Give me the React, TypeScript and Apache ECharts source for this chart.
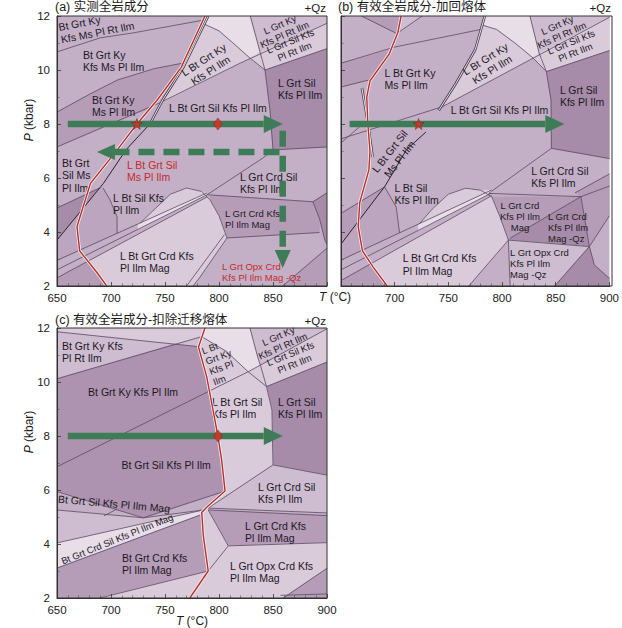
import React, { useEffect, useRef } from 'react';
import * as echarts from 'echarts';

type Pt = [number, number];
type Field = [string, Pt[]];
type Label = [string, number, number, number, string, string];
type Arrow = [number, number, number, number, number];

const FONT = '"Liberation Sans", Arial, "Noto Sans CJK SC", sans-serif';
const SHADE: Record<string, string> = {
  L0: '#e8dee8', L1: '#dacbdb', L2: '#cebdd0', M: '#c4b0c6', DM: '#bca5be', D1: '#b59db8', D2: '#a68ca9', DK: '#ad93b0',
};
const GREEN = '#3e7c57';
const RED = '#b52f2b';
const LINE = '#5b4a5f';

// ---------------- Panel (a) ----------------
const A_RED: Pt[] = [[787, 12], [765, 10.1], [743, 8.9], [724, 8], [706, 7.05], [681, 5.8], [668.5, 4.2], [671, 3.3], [687, 2.5], [696, 2]];
const A_BLACK: Pt[] = [[790, 12], [767, 10.1], [748, 8.9], [736, 8], [714, 7.05], [693, 5.8], [650, 3.7]];
const A_LINES: Pt[][] = [
  [[650, 10.67], [690, 11.19], [720, 11.37], [786, 11.85]],
  [[650, 8.44], [680, 9.1], [706, 9.63], [740, 10.05], [766, 10.25]],
  [[650, 7.15], [745, 8.78], [819.4, 10.25], [900, 11.73]],
  [[786.4, 11.7], [800, 11.45], [813, 11.0], [828.7, 10.44], [842.6, 10.0]],
  [[829, 12], [838, 10.67], [842.6, 10.0]],
  [[842.6, 10.0], [900, 10.79]],
  [[842.6, 10.0], [847.2, 8.52], [850, 7.04]],
  [[850, 7.04], [900, 7.15]],
  [[789, 5.38], [840.7, 6.74], [850, 7.04]],
  [[789, 5.38], [887, 5.12], [900, 5.45]],
  [[887, 5.12], [893, 4.5], [898, 3.7], [900, 3.55]],
  [[807.4, 3.78], [893, 3.98]],
  [[727, 4.33], [742.6, 4.93], [755, 5.4], [770, 5.63], [784, 5.5], [791.7, 5.19], [800, 4.6], [807.4, 3.78]],
  [[807.4, 3.78], [782.4, 2.33], [776, 2.0]],
  [[805, 3.9], [770, 2.0]],
  [[650, 2.95], [789, 5.45]],
  [[650, 2.6], [789, 5.38]],
  [[650, 2.3], [789, 5.3]],
  [[650, 4.89], [689.5, 5.63]],
  [[692.6, 5.63], [699, 5.2], [705.6, 4.56], [705.6, 3.95]],
  [[859, 2.0], [900, 3.4]],
];
const A_FIELDS: Field[] = [
  ['D1', [[650, 8.44], [680, 9.1], [706, 9.63], [740, 10.05], [766, 10.25], [765, 10.1], [743, 8.9], [736.5, 8.59], [700, 8.0], [650, 7.15]]],
  ['L0', [[790, 12], [829, 12], [838, 10.67], [828.7, 10.44], [813, 11.0], [800, 11.45], [786.4, 11.7]]],
  ['L1', [[746, 8.78], [767, 10.1], [786.4, 11.7], [800, 11.45], [813, 11.0], [828.7, 10.44], [819.4, 10.25]]],
  ['L2', [[829, 12], [900, 12], [900, 11.73], [838, 10.67]]],
  ['L1', [[828.7, 10.44], [838, 10.67], [900, 11.73], [900, 10.79], [842.6, 10.0]]],
  ['D2', [[842.6, 10.0], [900, 10.79], [900, 7.15], [850, 7.04], [847.2, 8.52]]],
  ['D1', [[791.7, 5.37], [887, 5.12], [893, 4.5], [893, 3.98], [807.4, 3.78], [800, 4.6], [791.7, 5.19]]],
  ['D2', [[887, 5.12], [900, 5.45], [900, 3.55], [898, 3.7], [893, 4.5]]],
  ['D1', [[859, 2], [900, 2], [900, 3.4]]],
  ['L1', [[727, 4.33], [742.6, 4.93], [755, 5.4], [770, 5.63], [784, 5.5], [789, 5.45]]],
  ['L1', [[696, 2], [687, 2.5], [678, 2.9], [789, 5.3], [791.7, 5.19], [800, 4.6], [807.4, 3.78], [782.4, 2.33], [776, 2]]],
  ['L0', [[725, 4.3], [789, 5.45], [789, 5.38], [725, 4.1]]],
  ['D1', [[650, 2], [696, 2], [687, 2.5], [678, 2.9], [650, 2.3]]],
  ['D2', [[650, 4.89], [689.5, 5.63], [650, 3.7]]],
  ['DM', [[689.5, 5.63], [692.6, 5.63], [699, 5.2], [705.6, 4.56], [705.6, 3.95], [650, 2.95], [650, 3.7]]],
];
const A_LABELS: Label[] = [
  ['Bt Grt Ky\nKfs Ms Pl Rt Ilm', 652.5, 11.36, 11, 'l', 'n'],
  ['Bt Grt Ky\nKfs Ms Pl Ilm', 674, 10.33, 0, 'l', 'n'],
  ['Bt Grt Ky\nMs Pl Ilm', 682.4, 8.67, 0, 'l', 'n'],
  ['L Bt Grt Ky\nKfs Pl Ilm', 788.9, 10.19, 33, 'c', 'n'],
  ['L Grt Ky\nKfs Pl Rt Ilm', 858.5, 11.5, 24, 'c', 's'],
  ['L Grt Sil Kfs\nPl Rt Ilm', 868, 10.88, 22, 'c', 's'],
  ['L Grt Sil\nKfs Pl Ilm', 854.6, 9.3, 0, 'l', 'n'],
  ['L Bt Grt Sil Kfs Pl Ilm', 799, 8.59, 0, 'c', 'n'],
  ['L Bt Grt Sil\nMs Pl Ilm', 714.8, 6.26, 0, 'l', 'r'],
  ['Bt Grt\nSil Ms\nPl Ilm', 654.6, 6.11, 0, 'l', 'n'],
  ['L Bt Sil Kfs\nPl Ilm', 701.9, 5.04, 0, 'l', 'n'],
  ['L Grt Crd Sil\nKfs Pl Ilm', 819.4, 5.81, 0, 'l', 'n'],
  ['L Grt Crd Kfs\nPl Ilm Mag', 805.6, 4.48, 0, 'l', 's'],
  ['L Bt Grt Crd Kfs\nPl Ilm Mag', 708.3, 2.89, 0, 'l', 'n'],
  ['L Grt Opx Crd\nKfs Pl Ilm Mag -Qz', 802.8, 2.52, 0, 'l', 'rs'],
];
const A_ARROWS: Arrow[] = [[660, 8, 859, 8, 0], [856, 6.96, 687, 6.96, 1], [859, 7.75, 859, 2.67, 1]];
const A_STARS: Pt[] = [[724, 8]];
const A_DIAMONDS: Pt[] = [[799, 8]];

// ---------------- Panel (b) ----------------
const B_RED: Pt[] = [[706, 12], [703, 11.4], [695, 10.6], [677, 9.6], [674, 9.0], [675, 8.0], [677, 7.0], [676, 6.3], [667.5, 5.1], [666, 4.2], [670, 3.3], [680, 2.7], [693, 2]];
const B_BLACK: Pt[] = [[784, 12], [775, 10.75], [757, 9.5], [741, 8.5], [729, 7.7], [711, 7.05], [691, 5.7], [650, 3.55]];
const B_DOUBLE: Pt[][] = [[[669.5, 9.33], [674, 8.3], [679.5, 6.78]]];
const B_LINES: Pt[][] = [
  [[669, 12], [702, 11.35]],
  [[702, 11.35], [725.6, 12]],
  [[650, 10.25], [700, 10.85], [780, 11.5]],
  [[650, 9.37], [676, 9.63]],
  [[650, 7.45], [744.4, 8.64], [900, 11.95]],
  [[781, 11.67], [795, 11.5], [812, 11.0], [829, 10.44], [841.3, 9.94]],
  [[826, 12], [834.5, 10.63], [841.3, 9.94]],
  [[841.3, 9.94], [900, 10.72]],
  [[841.3, 9.94], [845.6, 8.89], [846, 7.1]],
  [[846, 7.1], [900, 6.72]],
  [[787.5, 5.43], [846, 7.1]],
  [[787.5, 5.43], [873.5, 5.31], [900, 5.7]],
  [[868, 5.45], [900, 6.15]],
  [[722.9, 4.3], [735, 4.85], [750, 5.4], [766, 5.62], [780, 5.55], [790.5, 5.3], [798, 4.57], [805.9, 3.7]],
  [[805.9, 3.7], [769, 2.0]],
  [[805.9, 3.7], [807.5, 2.0]],
  [[805.9, 3.7], [881.3, 3.46]],
  [[807.5, 3.77], [873.5, 5.31]],
  [[873.5, 5.31], [881.3, 3.46]],
  [[881.3, 3.46], [900, 4.6]],
  [[881.3, 3.46], [886, 2.78], [898, 2.35], [900, 2.3]],
  [[849, 2.0], [881.3, 3.46]],
  [[650, 2.96], [790.5, 5.56]],
  [[650, 2.6], [790.5, 5.45]],
  [[650, 2.2], [790.5, 5.35]],
  [[650, 4.69], [690.6, 5.67]],
  [[690.6, 5.67], [701.4, 4.93], [704.5, 3.97]],
  [[650, 7.3], [676, 8.2]],
];
const B_FIELDS: Field[] = [
  ['D1', [[669, 12], [706, 12], [703, 11.4], [702, 11.35]]],
  ['L2', [[706, 12], [725.6, 12], [702, 11.35], [703, 11.4]]],
  ['D1', [[650, 10.25], [694, 10.72], [686, 10.1], [677, 9.6], [676, 9.63], [650, 9.37]]],
  ['L0', [[784, 12], [826, 12], [834.5, 10.63], [829, 10.44], [812, 11.0], [795, 11.5], [781, 11.67]]],
  ['L1', [[742.5, 8.6], [757, 9.5], [775, 10.75], [781, 11.67], [795, 11.5], [812, 11.0], [829, 10.44]]],
  ['L2', [[826, 12], [900, 12], [900, 11.95], [834.5, 10.63]]],
  ['L1', [[829, 10.44], [834.5, 10.63], [900, 11.95], [900, 10.72], [841.3, 9.94]]],
  ['D2', [[841.3, 9.94], [900, 10.72], [900, 6.72], [846, 7.1], [845.6, 8.89]]],
  ['D1', [[873.5, 5.31], [900, 5.7], [900, 6.15], [868, 5.45]]],
  ['D1', [[790.5, 5.3], [873.5, 5.31], [807.5, 3.77], [805.9, 3.7], [798, 4.57]]],
  ['D2', [[807.5, 3.77], [873.5, 5.31], [881.3, 3.46], [805.9, 3.7]]],
  ['D1', [[873.5, 5.31], [900, 5.7], [900, 4.6], [881.3, 3.46]]],
  ['L2', [[805.9, 3.7], [881.3, 3.46], [849, 2], [807.5, 2]]],
  ['D2', [[849, 2], [881.3, 3.46], [886, 2.78], [898, 2.35], [900, 2.3], [900, 2]]],
  ['L1', [[722.9, 4.3], [735, 4.85], [750, 5.4], [766, 5.62], [780, 5.55], [790.5, 5.56]]],
  ['L1', [[693, 2], [680, 2.7], [678, 2.83], [790.5, 5.35], [790.5, 5.3], [798, 4.57], [805.9, 3.7], [769, 2]]],
  ['L0', [[722, 4.29], [790.5, 5.56], [790.5, 5.45], [722, 4.06]]],
  ['D1', [[650, 2], [693, 2], [680, 2.7], [678, 2.83], [650, 2.2]]],
  ['D1', [[650, 4.69], [690.6, 5.67], [650, 3.55]]],
  ['DM', [[690.6, 5.67], [701.4, 4.93], [704.5, 3.97], [650, 2.96], [650, 3.55]]],
];
const B_LABELS: Label[] = [
  ['L Bt Grt Ky\nMs Pl Ilm', 690.6, 9.67, 0, 'l', 'n'],
  ['L Bt Grt Ky\nKfs Pl Ilm', 787.5, 10.22, 32, 'c', 'n'],
  ['L Grt Ky\nKfs Pl Rt Ilm', 853.5, 11.48, 24, 'c', 's'],
  ['L Grt Sil Kfs\nPl Rt Ilm', 866.3, 10.85, 22, 'c', 's'],
  ['L Grt Sil\nKfs Pl Ilm', 853.9, 9.04, 0, 'l', 'n'],
  ['L Bt Grt Sil Kfs Pl Ilm', 797.6, 8.52, 0, 'c', 'n'],
  ['L Bt Grt Sil\nMs Pl Ilm', 699.8, 6.85, 52, 'c', 'n'],
  ['L Bt Sil\nKfs Pl Ilm', 699.8, 5.41, 0, 'l', 'n'],
  ['L Grt Crd Sil\nKfs Pl Ilm', 827.1, 6.04, 0, 'l', 'n'],
  ['L Grt Crd\nKfs Pl Ilm\nMag', 816.7, 4.57, 0, 'c', 's'],
  ['L Grt Crd\nKfs Pl Ilm\nMag -Qz', 842.8, 4.16, 0, 'l', 's'],
  ['L Grt Opx Crd\nKfs Pl Ilm\nMag -Qz', 807.5, 2.84, 0, 'l', 's'],
  ['L Bt Grt Crd Kfs\nPl Ilm Mag', 707.5, 2.8, 0, 'l', 'n'],
];
const B_ARROWS: Arrow[] = [[658, 8, 858, 8, 0]];
const B_STARS: Pt[] = [[722.3, 8]];

// ---------------- Panel (c) ----------------
const C_RED: Pt[] = [[787, 12], [781, 11.3], [788.6, 10.2], [794.5, 8.96], [799, 8], [802.5, 7.1], [805.6, 5.96], [788.6, 5.36], [784, 5.17], [785.5, 4.3], [790, 3.0], [773, 2]];
const C_LINES: Pt[][] = [
  [[650, 11.86], [780.8, 11.31]],
  [[650, 10.12], [784, 11.68]],
  [[650, 6.86], [827, 10.38], [900, 11.97]],
  [[784, 11.68], [807, 11.13], [827, 10.38], [844, 9.83]],
  [[828.7, 12], [836, 10.9], [838.5, 10.6], [844, 9.83]],
  [[844, 9.83], [900, 10.74]],
  [[844, 9.83], [849, 8.96], [850, 6.93]],
  [[850, 6.93], [900, 6.55]],
  [[850, 6.93], [790, 5.33]],
  [[790, 5.33], [900, 5.15]],
  [[790, 5.26], [900, 5.05]],
  [[790, 5.26], [808.6, 3.93], [790, 3.0]],
  [[808.6, 3.93], [900, 4.05]],
  [[859.5, 2], [900, 3.1]],
  [[857, 2.1], [900, 2.15]],
  [[650, 5.94], [730, 4.97], [805.6, 5.96]],
  [[650, 5.26], [730, 4.97]],
  [[730, 4.97], [785.5, 5.26]],
  [[650, 4.04], [785.5, 5.26]],
  [[650, 3.11], [782.4, 5.07]],
  [[689.8, 2], [790, 3.0]],
  [[693.5, 5.04], [705.6, 5.3]],
];
const C_FIELDS: Field[] = [
  ['L1', [[650, 12], [787, 12], [781, 11.3], [650, 11.86]]],
  ['L2', [[650, 11.86], [758.4, 11.4], [650, 10.12]]],
  ['L2', [[758.4, 11.4], [784, 11.68], [781, 11.3]]],
  ['DK', [[650, 10.12], [758.4, 11.4], [780.8, 11.31], [788.6, 10.2], [791, 9.66], [650, 6.86]]],
  ['L0', [[787, 12], [828.7, 12], [836, 10.9], [838.5, 10.6], [827, 10.38], [807, 11.13], [784, 11.68]]],
  ['L1', [[784, 11.68], [807, 11.13], [827, 10.38], [791, 9.66], [788.6, 10.2], [781, 11.3]]],
  ['L2', [[828.7, 12], [900, 12], [900, 11.97], [838.5, 10.6], [836, 10.9]]],
  ['L1', [[827, 10.38], [838.5, 10.6], [900, 11.97], [900, 10.74], [844, 9.83]]],
  ['D2', [[844, 9.83], [900, 10.74], [900, 6.55], [850, 6.93], [849, 8.96]]],
  ['L1', [[791, 9.66], [827, 10.38], [844, 9.83], [849, 8.96], [850, 6.93], [806, 5.75], [805.6, 5.96], [802.5, 7.1], [799, 8], [794.5, 8.96]]],
  ['L2', [[790, 5.33], [850, 6.93], [900, 6.55], [900, 5.15]]],
  ['D1', [[790, 5.26], [900, 5.05], [900, 4.05], [808.6, 3.93]]],
  ['L1', [[808.6, 3.93], [900, 4.05], [900, 3.1], [859.5, 2], [773, 2], [790, 3.0]]],
  ['D1', [[859.5, 2], [900, 2], [900, 3.1]]],
  ['L1', [[805.6, 5.96], [806, 5.75], [790, 5.33], [790, 5.26], [808.6, 3.93], [790, 3.0], [785.5, 4.3], [784, 5.17], [788.6, 5.36]]],
  ['DK', [[650, 6.86], [791, 9.66], [794.5, 8.96], [799, 8], [802.5, 7.1], [805.6, 5.96], [730, 4.97], [650, 5.94]]],
  ['M', [[650, 5.94], [730, 4.97], [650, 5.26]]],
  ['L2', [[650, 5.26], [730, 4.97], [785.5, 5.26], [650, 4.04]]],
  ['L0', [[650, 4.04], [785.5, 5.26], [784, 5.17], [782.4, 5.07], [650, 3.11]]],
  ['D1', [[650, 3.11], [782.4, 5.07], [784, 5.17], [785.5, 4.3], [790, 3.0], [689.8, 2], [650, 2]]],
  ['L1', [[689.8, 2], [790, 3.0], [773, 2]]],
];
const C_LABELS: Label[] = [
  ['Bt Grt Ky Kfs\nPl Rt Ilm', 654.6, 11.11, 0, 'l', 'n'],
  ['Bt Grt Ky Kfs Pl Ilm', 720.4, 9.63, 0, 'c', 'n'],
  ['L Bt\nGrt Ky\nKfs Pl\nIlm', 789.5, 10.57, 20, 'l', 's'],
  ['L Grt Ky\nKfs Pl Rt Ilm', 857, 11.52, 24, 'c', 's'],
  ['L Grt Sil Kfs\nPl Rt Ilm', 868, 10.86, 22, 'c', 's'],
  ['L Bt Grt Sil\nKfs Pl Ilm', 793.5, 9.04, 0, 'l', 'n'],
  ['L Grt Sil\nKfs Pl Ilm', 854.6, 9.04, 0, 'l', 'n'],
  ['Bt Grt Sil Kfs Pl Ilm', 751, 6.93, 0, 'c', 'n'],
  ['L Grt Crd Sil\nKfs Pl Ilm', 836.1, 5.89, 0, 'l', 'n'],
  ['Bt Grt Sil Kfs Pl Ilm Mag', 702.8, 5.48, -5, 'c', 'n'],
  ['L Grt Crd Kfs\nPl Ilm Mag', 824.1, 4.44, 0, 'l', 'n'],
  ['Bt Grt Crd Sil Kfs Pl Ilm Mag', 705.6, 4.19, 22, 'c', 's'],
  ['Bt Grt Crd Kfs\nPl Ilm Mag', 710.2, 3.26, 0, 'l', 'n'],
  ['L Grt Opx Crd Kfs\nPl Ilm Mag', 810.2, 2.96, 0, 'l', 'n'],
];
const C_ARROWS: Arrow[] = [[660, 8, 859, 8, 0]];
const C_DIAMONDS: Pt[] = [[799, 8]];

const T_MIN = 650, T_MAX = 900, T_STEP = 50;
const P_MIN = 2, P_MAX = 12, P_STEP = 2;
const TITLES = ['(a) 实测全岩成分', '(b) 有效全岩成分-加回熔体', '(c) 有效全岩成分-扣除迁移熔体'];

const GRIDS = [
  { left: 57, top: 16, width: 270, height: 270 },
  { left: 341, top: 16, width: 271, height: 270 },
  { left: 57, top: 328, width: 270, height: 270 },
];

const STAR = 'path://M0,-10L2.35,-3.24L9.51,-3.09L3.8,1.24L5.88,8.09L0,4L-5.88,8.09L-3.8,1.24L-9.51,-3.09L-2.35,-3.24Z';

function panel(g: number, fields: Field[], lines: Pt[][], red: Pt[], black: Pt[] | null, doubles: Pt[][], labels: Label[], arrows: Arrow[], stars: Pt[], diamonds: Pt[]) {
  const base = { xAxisIndex: g, yAxisIndex: g, silent: true };
  const out: any[] = [];
  out.push({
    ...base, type: 'custom', clip: true, z: 1,
    data: fields.map((f) => f[1][0]),
    renderItem: (params: any, api: any) => {
      const f = fields[params.dataIndex];
      const c = SHADE[f[0]];
      return { type: 'polygon', shape: { points: f[1].map((p) => api.coord(p)) }, style: { fill: c, stroke: c, lineWidth: 0.4 } };
    },
  });
  out.push({
    ...base, type: 'custom', clip: true, z: 2,
    data: lines.map((l) => l[0]),
    renderItem: (params: any, api: any) => ({
      type: 'polyline', shape: { points: lines[params.dataIndex].map((p) => api.coord(p)) },
      style: { stroke: LINE, lineWidth: 0.8, fill: null },
    }),
  });
  const dbl = doubles.slice();
  if (black) dbl.push(black.filter((p) => p[1] >= 7.9));
  out.push({
    ...base, type: 'custom', clip: true, z: 3,
    data: dbl.map((l) => l[0]),
    renderItem: (params: any, api: any) => {
      const pts = dbl[params.dataIndex].map((p) => api.coord(p));
      return { type: 'group', children: [
        { type: 'polyline', shape: { points: pts }, style: { stroke: '#4e4252', lineWidth: 2.6, fill: null } },
        { type: 'polyline', shape: { points: pts }, style: { stroke: '#f2eef2', lineWidth: 0.9, fill: null } },
      ] };
    },
  });
  if (black) {
    out.push({
      ...base, type: 'custom', clip: true, z: 3,
      data: [black[0]],
      renderItem: (params: any, api: any) => ({
        type: 'polyline', shape: { points: black.filter((p) => p[1] <= 8.1).map((p) => api.coord(p)) },
        style: { stroke: '#2c2230', lineWidth: 1.0, fill: null },
      }),
    });
  }
  out.push({
    ...base, type: 'custom', clip: false, z: 4,
    data: labels.map((l) => [l[1], l[2]]),
    renderItem: (params: any, api: any) => {
      const l = labels[params.dataIndex];
      const p = api.coord([l[1], l[2]]);
      const small = l[5] === 's' || l[5] === 'rs';
      const isRed = l[5] === 'r' || l[5] === 'rs';
      return {
        type: 'text', x: p[0], y: p[1], rotation: (l[3] * Math.PI) / 180,
        style: {
          text: l[0], fill: isRed ? '#c42a2a' : '#1d181f', fontSize: small ? 9.5 : 10.5, fontFamily: FONT,
          align: l[4] === 'c' ? 'center' : 'left', verticalAlign: 'middle', lineHeight: small ? 11 : 12.5,
        },
      };
    },
  });
  out.push({
    ...base, type: 'custom', clip: true, z: 5,
    data: [red[0]],
    renderItem: (params: any, api: any) => {
      const pts = red.map((p) => api.coord(p));
      return { type: 'group', children: [
        { type: 'polyline', shape: { points: pts }, style: { stroke: '#f4eef4', lineWidth: 3, fill: null } },
        { type: 'polyline', shape: { points: pts }, style: { stroke: RED, lineWidth: 1.4, fill: null } },
      ] };
    },
  });
  out.push({
    ...base, type: 'custom', clip: false, z: 6,
    data: arrows.map((a) => [a[0], a[1]]),
    renderItem: (params: any, api: any) => {
      const a = arrows[params.dataIndex];
      const s = api.coord([a[0], a[1]]);
      const e = api.coord([a[2], a[3]]);
      const dx = e[0] - s[0], dy = e[1] - s[1];
      const len = Math.hypot(dx, dy);
      const ux = dx / len, uy = dy / len;
      const hl = a[4] ? 18 : 19, hw = a[4] ? 8 : 9;
      const bx = e[0] - ux * hl, by = e[1] - uy * hl;
      const px = -uy, py = ux;
      return { type: 'group', children: [
        { type: 'line', shape: { x1: s[0], y1: s[1], x2: bx, y2: by }, style: { stroke: GREEN, lineWidth: 6.5, lineDash: a[4] ? [16, 9] : null, lineCap: 'butt' } },
        { type: 'polygon', shape: { points: [[e[0], e[1]], [bx + px * hw, by + py * hw], [bx - px * hw, by - py * hw]] }, style: { fill: GREEN } },
      ] };
    },
  });
  if (stars.length) {
    out.push({ ...base, type: 'scatter', z: 7, data: stars, symbol: STAR, symbolSize: 11, itemStyle: { color: '#e12b24', borderColor: '#7e1712', borderWidth: 0.6 } });
  }
  if (diamonds.length) {
    out.push({ ...base, type: 'scatter', z: 7, data: diamonds, symbol: 'diamond', symbolSize: [9, 12], itemStyle: { color: '#e12b24', borderColor: '#7e1712', borderWidth: 0.6 } });
  }
  return out;
}

function buildOption() {
  const xAxis = [0, 1, 2].map((i) => ({
    type: 'value', gridIndex: i, min: T_MIN, max: T_MAX, interval: T_STEP, z: 20,
    axisLine: { show: true, lineStyle: { color: '#333', width: 1 } },
    axisTick: { show: true, inside: true, length: 4, lineStyle: { color: '#333', width: 0.8 } },
    minorTick: { show: true, splitNumber: 5, length: 2.5, lineStyle: { color: '#444', width: 0.6 } },
    splitLine: { show: false },
    axisLabel: {
      show: true, fontSize: 11.5, color: '#222', margin: 6, fontFamily: FONT,
      formatter: (v: number) => ((i === 0 && v === 900) || (i === 1 && v === 650) ? '' : String(v)),
    },
  }));
  const yAxis = [0, 1, 2].map((i) => ({
    type: 'value', gridIndex: i, min: P_MIN, max: P_MAX, interval: P_STEP, z: 20,
    axisLine: { show: true, lineStyle: { color: '#333', width: 1 } },
    axisTick: { show: true, inside: true, length: 4, lineStyle: { color: '#333', width: 0.8 } },
    minorTick: { show: true, splitNumber: 2, length: 2.5, lineStyle: { color: '#444', width: 0.6 } },
    splitLine: { show: false },
    axisLabel: { show: i !== 1, fontSize: 11.5, color: '#222', margin: 7, fontFamily: FONT },
  }));
  const grid = GRIDS.map((g) => ({ ...g, show: true, backgroundColor: SHADE.M, borderWidth: 0, containLabel: false }));

  const txt = (x: number, y: number, text: string, align: string, size: number, extra: any = {}) => ({
    type: 'text', x, y, z: 100, silent: true, ...extra,
    style: { text, fill: '#1a1a1a', fontSize: size, fontFamily: FONT, align, verticalAlign: 'middle', rich: { i: { fontStyle: 'italic', fontSize: size, fontFamily: FONT, fill: '#1a1a1a' } } },
  });
  const graphic: any[] = [
    ...GRIDS.map((g) => ({ type: 'rect', z: 100, silent: true, shape: { x: g.left, y: g.top, width: g.width, height: g.height }, style: { fill: 'rgba(0,0,0,0)', stroke: '#333', lineWidth: 1 } })),
    txt(55, 7, TITLES[0], 'left', 12.5),
    txt(326, 8, '+Qz', 'right', 11.5),
    txt(338, 7, TITLES[1], 'left', 12.5),
    txt(611, 8, '+Qz', 'right', 11.5),
    txt(55, 320, TITLES[2], 'left', 12.5),
    txt(326, 321, '+Qz', 'right', 11.5),
    txt(28.5, 120, '{i|P} (kbar)', 'center', 12, { rotation: Math.PI / 2 }),
    txt(28.5, 432, '{i|P} (kbar)', 'center', 12, { rotation: Math.PI / 2 }),
    txt(319, 297, '{i|T} (°C)', 'left', 12),
    txt(192, 621, '{i|T} (°C)', 'center', 12),
  ];

  const series = [
    ...panel(0, A_FIELDS, A_LINES, A_RED, A_BLACK, [], A_LABELS, A_ARROWS, A_STARS, A_DIAMONDS),
    ...panel(1, B_FIELDS, B_LINES, B_RED, B_BLACK, B_DOUBLE, B_LABELS, B_ARROWS, B_STARS, []),
    ...panel(2, C_FIELDS, C_LINES, C_RED, null, [], C_LABELS, C_ARROWS, [], C_DIAMONDS),
  ];

  return { animation: false, backgroundColor: '#ffffff', grid, xAxis, yAxis, graphic, series };
}

export default function App() {
  const ref = useRef<HTMLDivElement>(null);
  useEffect(() => {
    const chart = echarts.init(ref.current as HTMLDivElement, undefined, { renderer: 'svg' });
    chart.setOption(buildOption() as any);
    return () => chart.dispose();
  }, []);
  return <div ref={ref} style={{ position: 'fixed', left: 0, top: 0, width: 622, height: 628 }} />;
}
